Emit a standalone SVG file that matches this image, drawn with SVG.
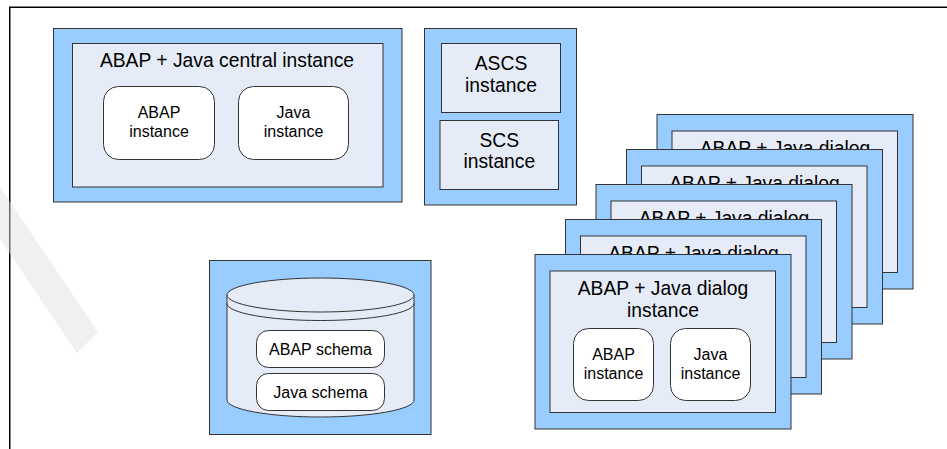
<svg xmlns="http://www.w3.org/2000/svg" width="947" height="449" viewBox="0 0 947 449">
  <style>
    .outer { fill: #99CCFF; stroke: #333333; stroke-width: 1; }
    .inner { fill: #E6ECF7; stroke: #333333; stroke-width: 1; }
    .sub { fill: #FFFFFF; stroke: #333333; stroke-width: 1; }
    .cyl { fill: #E6ECF7; stroke: #333333; stroke-width: 1; }
    .frame { fill: none; stroke: #000000; stroke-width: 1.5; }
    .wm { fill: #E0E0E0; fill-opacity: 0.48; stroke: none; }
    text { font-family: "Liberation Sans", Arial, sans-serif; fill: #000000; text-anchor: middle; }
    .t19 { font-size: 19.3px; }
    .t16 { font-size: 16px; }
  </style>
  <rect x="0" y="0" width="947" height="449" fill="#FFFFFF"/>
  <path class="frame" d="M9.75,449 L9.75,7.25 L947,7.25"/>

  <g id="central-instance">
    <rect class="outer" x="53.5" y="28.5" width="348.5" height="173.5"/>
    <rect class="inner" x="72.5" y="43.5" width="310.5" height="143.5"/>
    <text class="t19" x="227" y="66.5">ABAP + Java central instance</text>
    <g id="central-abap">
      <rect class="sub" x="103.5" y="86.5" width="111" height="73" rx="15" ry="15"/>
      <text class="t16" x="159" y="118.3">ABAP</text>
      <text class="t16" x="159" y="136.8">instance</text>
    </g>
    <g id="central-java">
      <rect class="sub" x="238.5" y="86.5" width="110" height="73" rx="15" ry="15"/>
      <text class="t16" x="293.5" y="118.3">Java</text>
      <text class="t16" x="293.5" y="136.8">instance</text>
    </g>
  </g>

  <g id="scs-column">
    <rect class="outer" x="424.5" y="28.5" width="152" height="176.5"/>
    <g id="ascs">
      <rect class="inner" x="441.5" y="43.5" width="119" height="69"/>
      <text class="t19" x="501" y="70">ASCS</text>
      <text class="t19" x="501" y="91.5">instance</text>
    </g>
    <g id="scs">
      <rect class="inner" x="440" y="120.5" width="118.5" height="69"/>
      <text class="t19" x="499.3" y="146.7">SCS</text>
      <text class="t19" x="499.3" y="168.3">instance</text>
    </g>
  </g>

  <g id="database">
    <rect class="outer" x="209.5" y="260.5" width="221.5" height="174"/>
    <path class="cyl" d="M227,295 L227,400 A93.5,17 0 0 0 414,400 L414,295 Z"/>
    <ellipse class="cyl" cx="320.5" cy="295" rx="93.5" ry="17"/>
    <path fill="none" stroke="#333333" stroke-width="1" d="M227,303.5 A93.5,17 0 0 0 414,303.5"/>
    <g id="abap-schema">
      <rect class="sub" x="256.5" y="330.5" width="128" height="37" rx="12" ry="12"/>
      <text class="t16" x="320.5" y="354.5">ABAP schema</text>
    </g>
    <g id="java-schema">
      <rect class="sub" x="256.5" y="373.5" width="128" height="37" rx="12" ry="12"/>
      <text class="t16" x="320.5" y="397.5">Java schema</text>
    </g>
  </g>

  <g id="dialog-4">
    <rect class="outer" x="657" y="114.5" width="256" height="174.5"/>
    <rect class="inner" x="672" y="131" width="225.5" height="141.5"/>
    <text class="t19" x="785" y="155">ABAP + Java dialog</text>
  </g>
  <g id="dialog-3">
    <rect class="outer" x="626.5" y="149.5" width="256" height="174.5"/>
    <rect class="inner" x="641.5" y="166" width="225.5" height="141.5"/>
    <text class="t19" x="754.5" y="190">ABAP + Java dialog</text>
  </g>
  <g id="dialog-2">
    <rect class="outer" x="596" y="184.5" width="256" height="174.5"/>
    <rect class="inner" x="611" y="201" width="225.5" height="141.5"/>
    <text class="t19" x="724" y="225">ABAP + Java dialog</text>
  </g>
  <g id="dialog-1">
    <rect class="outer" x="565.5" y="219.5" width="256" height="174.5"/>
    <rect class="inner" x="580.5" y="236" width="225.5" height="141.5"/>
    <text class="t19" x="693.5" y="260">ABAP + Java dialog</text>
  </g>
  <g id="dialog-0">
    <rect class="outer" x="535" y="254.5" width="256" height="174.5"/>
    <rect class="inner" x="550" y="271" width="225.5" height="141.5"/>
    <text class="t19" x="663" y="295">ABAP + Java dialog</text>
    <text class="t19" x="663" y="317">instance</text>
    <g id="dialog-abap">
      <rect class="sub" x="573.5" y="328.5" width="80" height="72" rx="15" ry="15"/>
      <text class="t16" x="613.5" y="360">ABAP</text>
      <text class="t16" x="613.5" y="378.5">instance</text>
    </g>
    <g id="dialog-java">
      <rect class="sub" x="670.5" y="328.5" width="80" height="72" rx="15" ry="15"/>
      <text class="t16" x="710.5" y="360">Java</text>
      <text class="t16" x="710.5" y="378.5">instance</text>
    </g>
  </g>

  <g id="connectors"></g>

  <g id="watermark">
    <polygon class="wm" points="77,353 98,332 -154,-41 -175,-20"/>
  </g>
</svg>
